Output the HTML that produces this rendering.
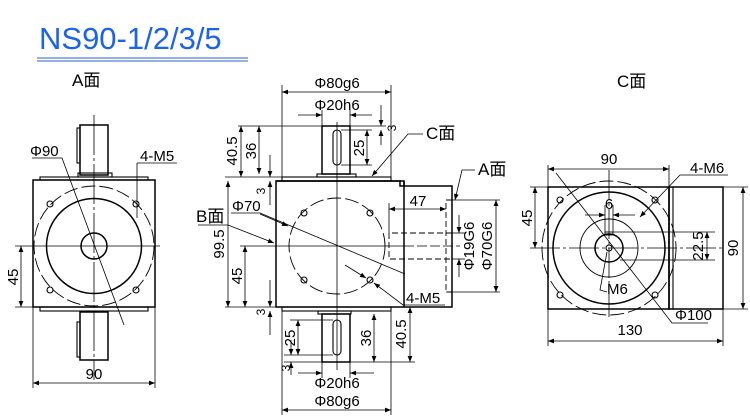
<!DOCTYPE html>
<html><head><meta charset="utf-8"><style>
body{margin:0;background:#fff}
svg{display:block}
text{font-family:"Liberation Sans","Noto Sans CJK SC",sans-serif;fill:#000}
</style></head><body>
<svg width="750" height="420" viewBox="0 0 750 420" xmlns="http://www.w3.org/2000/svg">
<defs>
<marker id="a" viewBox="0 0 10 10" refX="10" refY="5" markerWidth="8" markerHeight="6" orient="auto-start-reverse" markerUnits="userSpaceOnUse"><path d="M0,1 L10,5 L0,9z" fill="#000"/></marker>
</defs>
<text x="39" y="49" font-size="31" style="fill:#1a62f0">NS90-1/2/3/5</text>
<line x1="37" y1="58" x2="248" y2="58" stroke="#2a62d8" stroke-width="1"/>
<line x1="37" y1="61" x2="248" y2="61" stroke="#2a62d8" stroke-width="1"/>
<g stroke="#000" fill="none" stroke-width="1.1">
<!-- View A -->
<rect x="33" y="180" width="122" height="127" stroke-width="1.5"/>
<rect x="40" y="177" width="108" height="3"/><rect x="40" y="307" width="108" height="4"/>
<rect x="80" y="125" width="28" height="50" stroke-width="1.5"/><rect x="77" y="128" width="3" height="35"/>
<rect x="78" y="173" width="34" height="4"/>
<rect x="80" y="312" width="28" height="48" stroke-width="1.5"/><rect x="77" y="322" width="3" height="35"/>
<circle cx="94" cy="246" r="47.5" stroke-width="1.5"/><circle cx="94" cy="246" r="13" stroke-width="1.5"/>
<circle cx="94" cy="246" r="60" stroke-dasharray="14,4" stroke-width=".9"/>
<circle cx="50" cy="204" r="3"/><circle cx="136" cy="204" r="3"/><circle cx="50" cy="290" r="3"/><circle cx="136" cy="290" r="3"/>
<line x1="94" y1="115" x2="94" y2="380" stroke-width=".8" stroke-dasharray="40,3,3,3"/>
<line x1="15" y1="246" x2="160" y2="246" stroke-width=".8"/>
<line x1="15" y1="307" x2="33" y2="307" stroke-width=".8"/>
<line x1="21" y1="246" x2="21" y2="307" stroke-width=".8" marker-start="url(#a)" marker-end="url(#a)"/>
<line x1="33" y1="307" x2="33" y2="388" stroke-width=".8"/><line x1="155" y1="307" x2="155" y2="388" stroke-width=".8"/>
<line x1="33" y1="383" x2="155" y2="383" stroke-width=".8" marker-start="url(#a)" marker-end="url(#a)"/>
<polyline points="32,158 62,158 124,325" stroke-width=".8"/>
<polyline points="137,163 177,163" stroke-width=".8"/><line x1="137" y1="163" x2="137" y2="218" stroke-width=".8"/>
<!-- View B -->
<path d="M276,181 H400 V186 H404 V181" stroke-width="1.5"/>
<rect x="276" y="181" width="128" height="126" stroke-width="1.5"/>
<path d="M404,186 H452 V307 H404" stroke-width="1.5"/>
<rect x="282" y="177" width="109" height="4"/><rect x="282" y="307" width="109" height="4"/>
<rect x="317" y="174" width="39" height="3"/><rect x="318" y="311" width="33" height="3"/>
<rect x="322" y="126" width="28" height="48" stroke-width="1.5"/><rect x="322" y="314" width="28" height="48" stroke-width="1.5"/>
<rect x="333" y="130" width="8" height="35" rx="4"/><rect x="333" y="320" width="8" height="35" rx="4"/>
<circle cx="337" cy="246" r="48" stroke-dasharray="14,4" stroke-width=".9"/>
<circle cx="304" cy="213" r="3"/><circle cx="370" cy="213" r="3"/><circle cx="304" cy="280" r="3"/><circle cx="370" cy="280" r="3"/>
<line x1="337" y1="122" x2="337" y2="370" stroke-width=".8"/>
<line x1="240" y1="246" x2="404" y2="246" stroke-width=".8"/><line x1="404" y1="246" x2="460" y2="246" stroke-width=".8" stroke-dasharray="10,3"/>
<path d="M452,200 H446 V292 H452" stroke-dasharray="6,3" stroke-width=".9"/>
<path d="M452,233 H389 V259 H452" stroke-dasharray="6,3" stroke-width=".9"/>
<line x1="389" y1="203" x2="389" y2="233" stroke-width=".8"/>
<line x1="389" y1="209" x2="446" y2="209" stroke-width=".8" marker-start="url(#a)" marker-end="url(#a)"/>
<line x1="452" y1="233" x2="465" y2="233" stroke-width=".8"/><line x1="452" y1="259" x2="465" y2="259" stroke-width=".8"/>
<line x1="459" y1="215" x2="459" y2="233" stroke-width=".8" marker-end="url(#a)"/><line x1="459" y1="277" x2="459" y2="259" stroke-width=".8" marker-end="url(#a)"/>
<line x1="446" y1="200" x2="500" y2="200" stroke-width=".8"/><line x1="446" y1="292" x2="500" y2="292" stroke-width=".8"/>
<line x1="496" y1="200" x2="496" y2="292" stroke-width=".8" marker-start="url(#a)" marker-end="url(#a)"/>
<line x1="238" y1="126" x2="322" y2="126" stroke-width=".8"/>
<line x1="225" y1="177" x2="282" y2="177" stroke-width=".8"/><line x1="225" y1="307" x2="282" y2="307" stroke-width=".8"/>
<line x1="241" y1="126" x2="241" y2="177" stroke-width=".8" marker-start="url(#a)" marker-end="url(#a)"/>
<line x1="259" y1="126" x2="259" y2="174" stroke-width=".8" marker-start="url(#a)" marker-end="url(#a)"/>
<line x1="270" y1="155" x2="270" y2="177" stroke-width=".8" marker-end="url(#a)"/><line x1="270" y1="205" x2="270" y2="181" stroke-width=".8" marker-end="url(#a)"/>
<line x1="228" y1="181" x2="228" y2="307" stroke-width=".8" marker-start="url(#a)" marker-end="url(#a)"/>
<line x1="245" y1="246" x2="245" y2="307" stroke-width=".8" marker-start="url(#a)" marker-end="url(#a)"/>
<line x1="270" y1="280" x2="270" y2="307" stroke-width=".8" marker-end="url(#a)"/><line x1="270" y1="335" x2="270" y2="311" stroke-width=".8" marker-end="url(#a)"/>
<line x1="282" y1="85" x2="282" y2="177" stroke-width=".8"/><line x1="391" y1="85" x2="391" y2="177" stroke-width=".8"/>
<line x1="282" y1="92" x2="391" y2="92" stroke-width=".8" marker-start="url(#a)" marker-end="url(#a)"/>
<line x1="322" y1="110" x2="322" y2="126" stroke-width=".8"/><line x1="350" y1="110" x2="350" y2="126" stroke-width=".8"/>
<line x1="298" y1="115" x2="322" y2="115" stroke-width=".8" marker-end="url(#a)"/><line x1="372" y1="115" x2="350" y2="115" stroke-width=".8" marker-end="url(#a)"/>
<line x1="341" y1="130" x2="372" y2="130" stroke-width=".8"/><line x1="341" y1="165" x2="372" y2="165" stroke-width=".8"/>
<line x1="367" y1="130" x2="367" y2="165" stroke-width=".8" marker-start="url(#a)" marker-end="url(#a)"/>
<line x1="381" y1="105" x2="381" y2="126" stroke-width=".8" marker-end="url(#a)"/><line x1="381" y1="145" x2="381" y2="130" stroke-width=".8" marker-end="url(#a)"/>
<line x1="350" y1="126" x2="386" y2="126" stroke-width=".8"/>
<line x1="290" y1="320" x2="333" y2="320" stroke-width=".8"/><line x1="284" y1="355" x2="333" y2="355" stroke-width=".8"/>
<line x1="298" y1="320" x2="298" y2="355" stroke-width=".8" marker-start="url(#a)" marker-end="url(#a)"/>
<line x1="291" y1="340" x2="291" y2="355" stroke-width=".8" marker-end="url(#a)"/><line x1="291" y1="375" x2="291" y2="362" stroke-width=".8" marker-end="url(#a)"/>
<line x1="284" y1="362" x2="415" y2="362" stroke-width=".8"/>
<line x1="374" y1="314" x2="374" y2="362" stroke-width=".8" marker-start="url(#a)" marker-end="url(#a)"/>
<line x1="404" y1="307" x2="415" y2="307" stroke-width=".8"/>
<line x1="410" y1="307" x2="410" y2="362" stroke-width=".8" marker-start="url(#a)" marker-end="url(#a)"/>
<line x1="322" y1="362" x2="322" y2="378" stroke-width=".8"/><line x1="350" y1="362" x2="350" y2="378" stroke-width=".8"/>
<line x1="298" y1="373" x2="322" y2="373" stroke-width=".8" marker-end="url(#a)"/><line x1="374" y1="373" x2="350" y2="373" stroke-width=".8" marker-end="url(#a)"/>
<line x1="282" y1="311" x2="282" y2="415" stroke-width=".8"/><line x1="391" y1="311" x2="391" y2="415" stroke-width=".8"/>
<line x1="282" y1="410" x2="391" y2="410" stroke-width=".8" marker-start="url(#a)" marker-end="url(#a)"/>
<polyline points="423,134 408,134 372,176" stroke-width=".8" marker-end="url(#a)"/>
<polyline points="475,170 462,170 455,200" stroke-width=".8" marker-end="url(#a)"/>
<polyline points="198,225 228,225 274,243" stroke-width=".8" marker-end="url(#a)"/>
<polyline points="231,213 260,213 405,274" stroke-width=".8"/>
<line x1="260" y1="214" x2="288" y2="226" stroke-width=".8" marker-end="url(#a)"/>
<line x1="345" y1="265" x2="366" y2="278" stroke-width=".8" marker-end="url(#a)"/>
<polyline points="445,305 403,305 374,283" stroke-width=".8" marker-end="url(#a)"/>
<!-- View C -->
<rect x="548" y="187" width="121" height="122" stroke-width="1.5"/>
<rect x="669" y="187" width="54" height="122" stroke-width="1.5"/>
<line x1="673" y1="187" x2="673" y2="309"/>
<circle cx="609" cy="248" r="56" stroke-width="1.5"/><circle cx="609" cy="248" r="67" stroke-dasharray="14,4" stroke-width=".9"/>
<circle cx="609" cy="248" r="29" stroke-width=".9"/><circle cx="609" cy="248" r="14" stroke-width="1.5"/><circle cx="609" cy="248" r="3"/>
<circle cx="560" cy="200" r="3"/><circle cx="655" cy="200" r="3"/><circle cx="560" cy="295" r="3"/><circle cx="655" cy="295" r="3"/>
<line x1="530" y1="248" x2="722" y2="248" stroke-width=".8" stroke-dasharray="30,3,3,3"/>
<line x1="609" y1="170" x2="609" y2="318" stroke-width=".8" stroke-dasharray="30,3,3,3"/>
<rect x="605" y="232" width="8" height="3" stroke-width=".9"/>
<line x1="605" y1="205" x2="605" y2="232" stroke-width=".8"/><line x1="613" y1="205" x2="613" y2="232" stroke-width=".8"/>
<line x1="585" y1="215" x2="605" y2="215" stroke-width=".8" marker-end="url(#a)"/><line x1="635" y1="215" x2="613" y2="215" stroke-width=".8" marker-end="url(#a)"/>
<line x1="613" y1="232" x2="715" y2="232" stroke-width=".8"/><line x1="620" y1="260" x2="715" y2="260" stroke-width=".8"/>
<line x1="707" y1="232" x2="707" y2="260" stroke-width=".8" marker-start="url(#a)" marker-end="url(#a)"/>
<line x1="723" y1="187" x2="748" y2="187" stroke-width=".8"/><line x1="723" y1="309" x2="748" y2="309" stroke-width=".8"/>
<line x1="743" y1="187" x2="743" y2="309" stroke-width=".8" marker-start="url(#a)" marker-end="url(#a)"/>
<line x1="530" y1="187" x2="548" y2="187" stroke-width=".8"/>
<line x1="535" y1="187" x2="535" y2="248" stroke-width=".8" marker-start="url(#a)" marker-end="url(#a)"/>
<line x1="548" y1="165" x2="548" y2="346" stroke-width=".8"/><line x1="669" y1="165" x2="669" y2="187" stroke-width=".8"/><line x1="723" y1="309" x2="723" y2="346" stroke-width=".8"/>
<line x1="548" y1="169" x2="669" y2="169" stroke-width=".8" marker-start="url(#a)" marker-end="url(#a)"/>
<line x1="548" y1="341" x2="723" y2="341" stroke-width=".8" marker-start="url(#a)" marker-end="url(#a)"/>
<polyline points="708,323 672,323 556,173" stroke-width=".8"/>
<polyline points="728,175 680,175 640,217" stroke-width=".8" marker-end="url(#a)"/>
<polyline points="607,292 600,290 607,252" stroke-width=".8"/>
</g>
<g font-size="15">
<text x="72" y="86" font-size="17">A面</text>
<text x="30" y="156">Φ90</text>
<text x="140" y="161">4-M5</text>
<text x="94" y="379" text-anchor="middle">90</text>
<text transform="translate(18,277) rotate(-90)" text-anchor="middle">45</text>
<text x="337" y="88" text-anchor="middle">Φ80g6</text>
<text x="337" y="110" text-anchor="middle">Φ20h6</text>
<text x="337" y="388" text-anchor="middle">Φ20h6</text>
<text x="337" y="406" text-anchor="middle">Φ80g6</text>
<text x="426" y="139" font-size="17">C面</text>
<text x="478" y="175" font-size="17">A面</text>
<text x="196" y="222" font-size="17">B面</text>
<text x="232" y="211">Φ70</text>
<text x="406" y="303">4-M5</text>
<text x="418" y="206" text-anchor="middle">47</text>
<text transform="translate(237,151) rotate(-90)" text-anchor="middle">40.5</text>
<text transform="translate(256,151) rotate(-90)" text-anchor="middle">36</text>
<text transform="translate(265,191) rotate(-90)" text-anchor="middle" font-size="12">3</text>
<text transform="translate(224,244) rotate(-90)" text-anchor="middle">99.5</text>
<text transform="translate(242,276) rotate(-90)" text-anchor="middle">45</text>
<text transform="translate(265,312) rotate(-90)" text-anchor="middle" font-size="12">3</text>
<text transform="translate(364,148) rotate(-90)" text-anchor="middle">25</text>
<text transform="translate(396,128) rotate(-90)" text-anchor="middle" font-size="12">3</text>
<text transform="translate(295,338) rotate(-90)" text-anchor="middle">25</text>
<text transform="translate(290,368) rotate(-90)" text-anchor="middle" font-size="12">3</text>
<text transform="translate(371,338) rotate(-90)" text-anchor="middle">36</text>
<text transform="translate(406,334) rotate(-90)" text-anchor="middle">40.5</text>
<text transform="translate(474,246) rotate(-90)" text-anchor="middle">Φ19G6</text>
<text transform="translate(492,246) rotate(-90)" text-anchor="middle">Φ70G6</text>
<text x="617" y="87" font-size="17">C面</text>
<text x="609" y="164" text-anchor="middle">90</text>
<text x="690" y="173">4-M6</text>
<text x="609" y="209" text-anchor="middle">6</text>
<text x="607" y="294">M6</text>
<text x="675" y="320">Φ100</text>
<text x="630" y="335" text-anchor="middle">130</text>
<text transform="translate(532,218) rotate(-90)" text-anchor="middle">45</text>
<text transform="translate(703,246) rotate(-90)" text-anchor="middle">22.5</text>
<text transform="translate(738,248) rotate(-90)" text-anchor="middle">90</text>
</g>
</svg>
</body></html>
